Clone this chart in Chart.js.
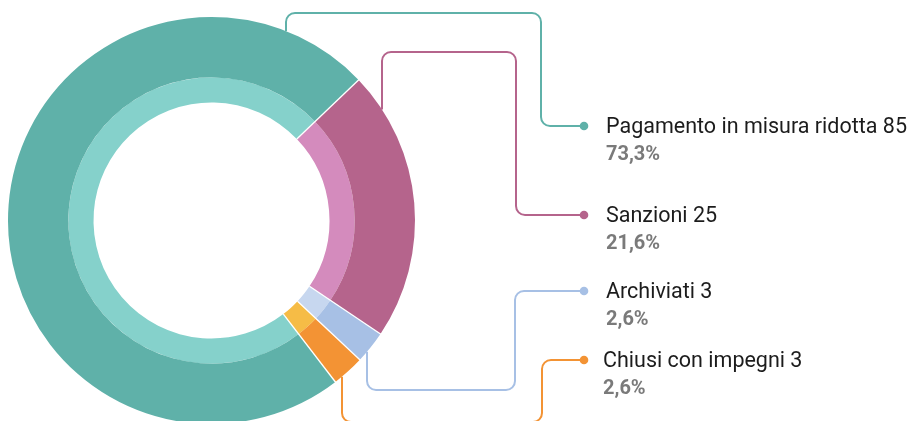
<!DOCTYPE html>
<html lang="it">
<head>
<meta charset="utf-8">
<title>Esiti dei procedimenti</title>
<script src="https://cdn.jsdelivr.net/npm/chart.js@4.4.1/dist/chart.umd.min.js"></script>
<style>
    html, body { margin: 0; padding: 0; background: #fff; overflow: hidden; }
    #wrap { position: relative; width: 908px; height: 421px; overflow: hidden; }
    #chartEsiti { position: absolute; left: 0; top: 0; }
    .voce { position: absolute; font-family: Roboto, 'Noto Sans', sans-serif; white-space: nowrap; }
    .voce .etichetta { font-size: 21.5px; line-height: 24px; color: #1c1c1c; }
    .voce .perc { font-size: 20px; line-height: 30px; font-weight: 700; color: #7a7a7a; }
</style>
</head>
<body>
<div id="wrap">
    <canvas id="chartEsiti" width="908" height="440"></canvas>
</div>
<script>
// ------------------------------------------------------------
// dati
// ------------------------------------------------------------
const categorie = ['Pagamento in misura ridotta', 'Sanzioni', 'Archiviati', 'Chiusi con impegni'];
const conteggi = [85, 25, 3, 3];
const coloriEsterni = ['#5fb1a9', '#b5648c', '#a7c0e5', '#f39334'];
const coloriInterni = ['#85d1cb', '#d48bbd', '#c7d7ef', '#f6bc46'];

// percentuali con la virgola come nel grafico originale
const totale = conteggi.reduce((a, b) => a + b, 0);
const percentuali = conteggi.map(v => (v / totale * 100).toFixed(1).replace('.', ',') + '%');

// ------------------------------------------------------------
// layout delle etichette e dei connettori
// ------------------------------------------------------------
const puntoX = 584;
const voci = [
    { testoX: 606, puntoY: 126, partenzaX: 286, lato: 'su',  quotaY: 13,  colonnaX: 541 },
    { testoX: 606, puntoY: 215, partenzaX: 382, lato: 'su',  quotaY: 52,  colonnaX: 516 },
    { testoX: 606, puntoY: 291, partenzaX: 367, lato: 'giu', quotaY: 390, colonnaX: 515 },
    { testoX: 603, puntoY: 360, partenzaX: 342, lato: 'giu', quotaY: 422, colonnaX: 542 }
];

function spezzataArrotondata(ctx, punti, raggio) {
    ctx.beginPath();
    ctx.moveTo(punti[0][0], punti[0][1]);
    for (let i = 1; i < punti.length - 1; i++) {
        ctx.arcTo(punti[i][0], punti[i][1], punti[i + 1][0], punti[i + 1][1], raggio);
    }
    const ultimo = punti[punti.length - 1];
    ctx.lineTo(ultimo[0], ultimo[1]);
    ctx.stroke();
}

const pluginConnettori = {
    id: 'connettori',
    afterDatasetsDraw(chart) {
        const ctx = chart.ctx;
        const esterni = chart.getDatasetMeta(0).data;
        const interni = chart.getDatasetMeta(1).data;
        const cx = esterni[0].x, cy = esterni[0].y;
        const rOut = esterni[0].outerRadius, rIn = interni[0].innerRadius;

        ctx.save();
        // separatori bianchi tra gli spicchi (su entrambi gli anelli)
        ctx.strokeStyle = '#ffffff';
        ctx.lineWidth = 1.3;
        esterni.forEach(arc => {
            const a = arc.startAngle;
            ctx.beginPath();
            ctx.moveTo(cx + Math.cos(a) * rIn, cy + Math.sin(a) * rIn);
            ctx.lineTo(cx + Math.cos(a) * (rOut + 1), cy + Math.sin(a) * (rOut + 1));
            ctx.stroke();
        });

        // linee di richiamo
        ctx.lineWidth = 2;
        ctx.lineJoin = 'round';
        voci.forEach((v, i) => {
            const dx = v.partenzaX - cx;
            const h = Math.sqrt(Math.max(rOut * rOut - dx * dx, 0));
            const y0 = v.lato === 'su' ? cy - h : cy + h;
            ctx.strokeStyle = coloriEsterni[i];
            spezzataArrotondata(ctx, [
                [v.partenzaX, y0],
                [v.partenzaX, v.quotaY],
                [v.colonnaX, v.quotaY],
                [v.colonnaX, v.puntoY],
                [puntoX, v.puntoY]
            ], 9);
            ctx.fillStyle = coloriEsterni[i];
            ctx.beginPath();
            ctx.arc(puntoX, v.puntoY, 4.3, 0, Math.PI * 2);
            ctx.fill();
        });
        ctx.restore();
    }
};

new Chart(document.getElementById('chartEsiti'), {
    type: 'doughnut',
    data: {
        labels: categorie,
        datasets: [
            { data: conteggi, backgroundColor: coloriEsterni, borderWidth: 0, weight: 12, hoverOffset: 0 },
            { data: conteggi, backgroundColor: coloriInterni, borderWidth: 0, weight: 5, hoverOffset: 0 }
        ]
    },
    options: {
        responsive: false,
        animation: false,
        events: [],
        rotation: 142.5,
        cutout: 118,
        layout: { padding: { left: 8, right: 493, top: 17, bottom: 16 } },
        plugins: { legend: { display: false }, tooltip: { enabled: false } }
    },
    plugins: [pluginConnettori]
});

// legenda come testo HTML
const wrap = document.getElementById('wrap');
voci.forEach((v, i) => {
    const d = document.createElement('div');
    d.className = 'voce';
    d.style.left = v.testoX + 'px';
    d.style.top = (v.puntoY - 12) + 'px';
    d.innerHTML = '<div class="etichetta">' + categorie[i] + ' ' + conteggi[i] + '</div>' +
        '<div class="perc">' + percentuali[i] + '</div>';
    wrap.appendChild(d);
});
</script>
</body>
</html>
